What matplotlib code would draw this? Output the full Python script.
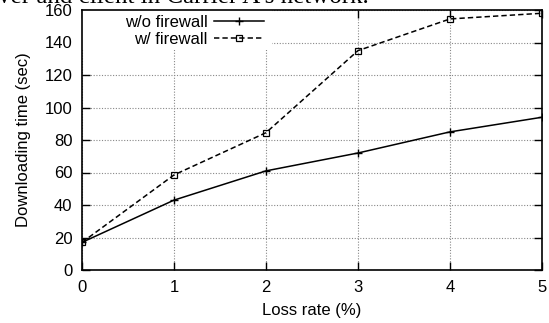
import matplotlib.pyplot as plt
from matplotlib.patches import Rectangle

loss_rate = [0, 1, 2, 3, 4, 5]
no_firewall = [17, 43, 61, 72, 85, 94]
with_firewall = [17, 58.5, 84.5, 135, 154.5, 158]
y_ticks = [0, 20, 40, 60, 80, 100, 120, 140, 160]

plt.rcParams['font.family'] = ['Liberation Sans', 'DejaVu Sans']

W, H = 549, 323
fig = plt.figure(figsize=(W / 100, H / 100), dpi=100)
ax = fig.add_axes([82 / W, 53 / H, 460 / W, 260 / H])

ax.plot(loss_rate, no_firewall, color='black', lw=1.1, marker='+',
        markersize=6, markeredgewidth=1.0, label='w/o firewall', zorder=3)
ax.plot(loss_rate, with_firewall, color='black', lw=1.1, ls=(0, (3.5, 2)),
        marker='s', markersize=4.5, markerfacecolor='none',
        markeredgewidth=0.9, label='w/ firewall', zorder=3)

ax.set_xlim(0, 5)
ax.set_ylim(0, 160)
ax.set_xticks(loss_rate)
ax.set_yticks(y_ticks)
ax.grid(True, color='#888888', ls=(0, (1, 1.5)), lw=0.8)
ax.set_axisbelow(True)
ax.tick_params(direction='in', length=6, width=1, top=True, right=True,
               labelsize=12)
ax.tick_params(axis='x', pad=7)
ax.tick_params(axis='y', pad=7)
for s in ax.spines.values():
    s.set_linewidth(1.2)
    s.set_zorder(4)

# blank area behind the key, as gnuplot does
ax.add_patch(Rectangle((0, 220 / 260), 190 / 460, 40 / 260,
                       transform=ax.transAxes, facecolor='white',
                       edgecolor='none', zorder=1))

ax.set_xlabel('Loss rate (%)', fontsize=12, labelpad=6)
ax.set_ylabel('Downloading time (sec)', fontsize=12, labelpad=10)

leg = ax.legend(loc='upper right', bbox_to_anchor=(277 / W, 1 - 2 / H),
                bbox_transform=fig.transFigure, frameon=False,
                markerfirst=False, fontsize=12, handlelength=3.0,
                borderpad=0.3, labelspacing=0.1, handletextpad=0.36)
for t in leg.get_texts():
    t.set_ha('right')
leg._legend_box.align = 'right'

fig.text(-0.004, 1 - 3 / H, "ver and client in Carrier A's network.",
         family=['Liberation Serif', 'DejaVu Serif'], fontsize=18,
         va='baseline', ha='left')

fig.savefig('out.png', dpi=100)
